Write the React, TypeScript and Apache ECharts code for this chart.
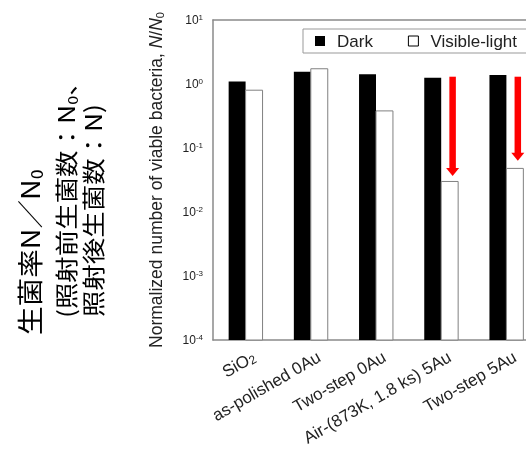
import React, { useEffect, useRef } from 'react';
import * as echarts from 'echarts';

const categories = ['SiO2', 'as-polished 0Au', 'Two-step 0Au', 'Air-(873K, 1.8 ks) 5Au', 'Two-step 5Au'];
const seriesNames = ['Dark', 'Visible-light'];
const darkValues = [1.09, 1.55, 1.42, 1.25, 1.38];
const lightValues = [0.8, 1.73, 0.38, 0.03, 0.048];
const arrowCategories = [3, 4];
const arrowFrom = [1.3, 1.3];
const arrowTo = [0.0365, 0.063];
const yMin = 1e-4;
const yMax = 10;
const jpLines = ['{a|生菌率N／N}{s|0}', '{a|(照射前生菌数：N}{s|0}{a|、}', '{a|照射後生菌数：N)}'];

export default function App() {
  const ref = useRef<HTMLDivElement>(null);
  useEffect(() => {
    const chart = echarts.init(ref.current!, null, { renderer: 'svg' });
    const font = '"Liberation Sans", Arial, sans-serif';
    const jpFont = '"Noto Sans CJK JP", sans-serif';
    const axisColor = '#8a8a8a';
    const textColor = '#222';
    const jpColor = '#444';
    const barFrac = 0.26;
    const jpRich = (size: number) => ({
      a: { fontSize: size, lineHeight: size + 4, fontFamily: jpFont, color: jpColor },
      s: { fontSize: Math.round(size * 0.6), lineHeight: Math.round(size * 0.55), verticalAlign: 'bottom', fontFamily: jpFont, color: jpColor },
    });
    const barRender = (side: number, style: any) => (params: any, api: any) => {
      const c = api.value(0);
      const v = api.value(1);
      const p = api.coord([c, v]);
      const base = api.coord([c, yMin]);
      const band = api.coord([1, v])[0] - api.coord([0, v])[0];
      const w = band * barFrac;
      const x = side < 0 ? p[0] - w : p[0];
      return { type: 'rect', shape: { x, y: p[1], width: w, height: base[1] - p[1] }, style };
    };
    chart.setOption({
      animation: false,
      textStyle: { fontFamily: font },
      grid: { left: 213, top: 20, width: 326, height: 320, outerBoundsMode: 'none', containLabel: false },
      legend: {
        left: 303,
        top: 29,
        width: 300,
        padding: [3, 12, 3, 12],
        borderColor: '#999',
        borderWidth: 1,
        itemWidth: 10,
        itemHeight: 10,
        itemGap: 35,
        icon: 'rect',
        textStyle: { fontSize: 17, lineHeight: 18, color: textColor, fontFamily: font, padding: [0, 0, 0, 7] },
        data: [
          { name: seriesNames[0], itemStyle: { color: '#000', borderWidth: 0 } },
          { name: seriesNames[1], itemStyle: { color: '#fff', borderColor: '#000', borderWidth: 1 } },
        ],
      },
      graphic: [
        { type: 'text', x: 29, y: 335, rotation: Math.PI / 2, scaleX: 1.1, style: { text: jpLines[0], rich: jpRich(26), align: 'left', verticalAlign: 'middle' } },
        { type: 'text', x: 65, y: 318, rotation: Math.PI / 2, scaleX: 1.15, style: { text: jpLines[1], rich: jpRich(23), align: 'left', verticalAlign: 'middle' } },
        { type: 'text', x: 92, y: 317, rotation: Math.PI / 2, scaleX: 1.15, style: { text: jpLines[2], rich: jpRich(23), align: 'left', verticalAlign: 'middle' } },
      ],
      xAxis: [
        {
          type: 'category',
          data: categories,
          position: 'bottom',
          axisLine: { lineStyle: { color: axisColor, width: 1.5 } },
          axisTick: { inside: true, length: 5, lineStyle: { color: axisColor, width: 1.5 } },
          axisLabel: {
            rotate: 30,
            margin: 1,
            verticalAlign: 'top',
            padding: [8, 0, 0, 0],
            interval: 0,
            formatter: (v: string) => (v === 'SiO2' ? '{a|SiO}{s|2}' : '{a|' + v + '}'),
            rich: {
              a: { fontSize: 17, lineHeight: 18, color: textColor, fontFamily: font },
              s: { fontSize: 12, lineHeight: 10, verticalAlign: 'bottom', color: textColor, fontFamily: font },
            },
          },
        },
        {
          type: 'category',
          data: categories,
          position: 'top',
          axisLine: { lineStyle: { color: axisColor, width: 1.5 } },
          axisTick: { inside: true, length: 5, lineStyle: { color: axisColor, width: 1.5 } },
          axisLabel: { show: false },
        },
      ],
      yAxis: {
        type: 'log',
        logBase: 10,
        min: yMin,
        max: yMax,
        name: '{n|Normalized number of viable bacteria, }{i|N}{n|/}{i|N}{s|0}',
        nameLocation: 'middle',
        nameGap: 48,
        nameTextStyle: {
          rich: {
            n: { fontSize: 17.5, lineHeight: 18, color: textColor, fontFamily: font },
            i: { fontSize: 17.5, lineHeight: 18, color: textColor, fontFamily: font, fontStyle: 'italic' },
            s: { fontSize: 11, lineHeight: 10, verticalAlign: 'bottom', color: textColor, fontFamily: font },
          },
        },
        axisLine: { show: true, lineStyle: { color: axisColor, width: 1.5 } },
        axisTick: { inside: true, length: 5, lineStyle: { color: axisColor, width: 1.5 } },
        minorTick: { show: false },
        splitLine: { show: false },
        axisLabel: {
          margin: 10,
          formatter: (v: number) => '{b|10}{s|' + Math.round(Math.log10(v)) + '}',
          rich: {
            b: { fontSize: 12, lineHeight: 14, color: textColor, fontFamily: font },
            s: { fontSize: 8, lineHeight: 8, verticalAlign: 'top', color: textColor, fontFamily: font },
          },
        },
      },
      series: [
        {
          name: seriesNames[0],
          type: 'custom',
          encode: { x: 0, y: 1 },
          itemStyle: { color: '#000' },
          data: darkValues.map((v, i) => [i, v]),
          renderItem: barRender(-1, { fill: '#000' }),
        },
        {
          name: seriesNames[1],
          type: 'custom',
          encode: { x: 0, y: 1 },
          itemStyle: { color: '#fff', borderColor: '#000', borderWidth: 1 },
          data: lightValues.map((v, i) => [i, v]),
          renderItem: barRender(1, { fill: '#fff', stroke: '#808080', lineWidth: 1 }),
        },
        {
          type: 'custom',
          z: 10,
          encode: { x: 0, y: [1, 2] },
          data: arrowCategories.map((c, i) => [c, arrowFrom[i], arrowTo[i]]),
          renderItem: (params: any, api: any) => {
            const c = api.value(0);
            const top = api.coord([c, api.value(1)]);
            const tip = api.coord([c, api.value(2)]);
            const band = api.coord([1, api.value(1)])[0] - api.coord([0, api.value(1)])[0];
            const x = top[0] + band * barFrac / 2 + band * 0.045;
            const headH = 8;
            const headW = 13;
            const shaftW = 6.5;
            return {
              type: 'group',
              children: [
                { type: 'rect', shape: { x: x - shaftW / 2, y: top[1], width: shaftW, height: tip[1] - headH - top[1] + 1 }, style: { fill: '#ff0000' } },
                { type: 'polygon', shape: { points: [[x - headW / 2, tip[1] - headH], [x + headW / 2, tip[1] - headH], [x, tip[1]]] }, style: { fill: '#ff0000' } },
              ],
            };
          },
        },
      ],
    });
    return () => chart.dispose();
  }, []);
  return <div ref={ref} style={{ position: 'fixed', left: 0, top: 0, width: 526, height: 450 }} />;
}
